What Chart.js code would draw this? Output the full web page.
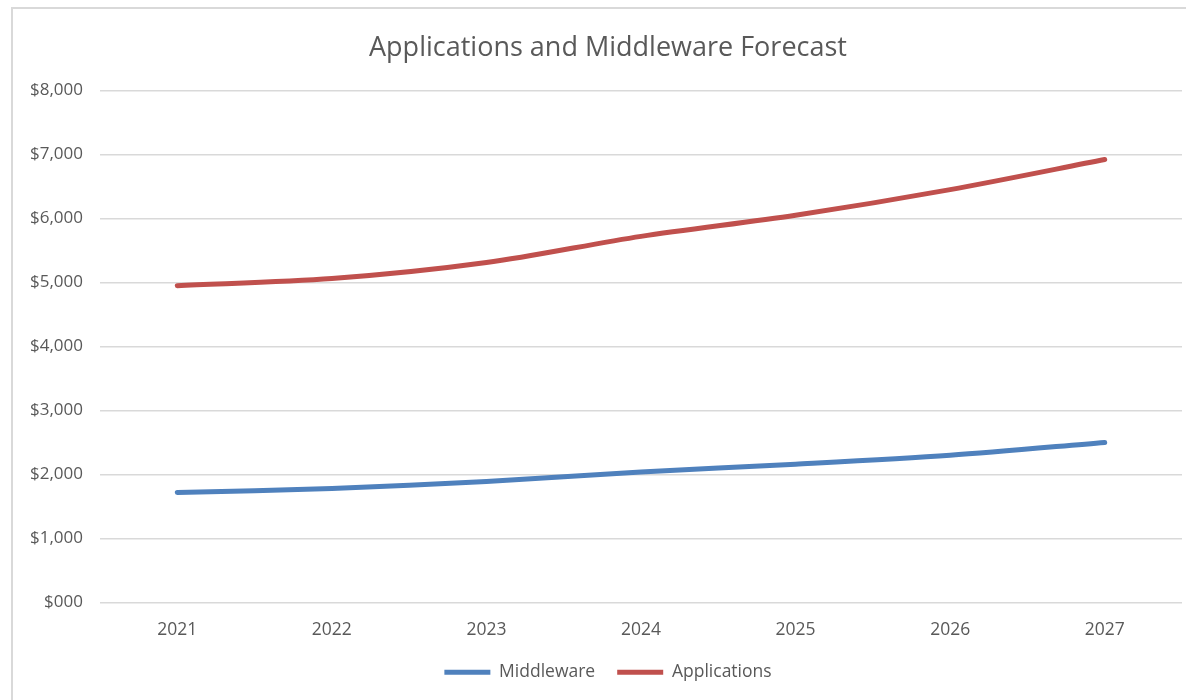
<!DOCTYPE html>
<html>
<head>
<meta charset="utf-8">
<title>Applications and Middleware Forecast</title>
<script src="https://cdn.jsdelivr.net/npm/chart.js@4"></script>
<style>
  html, body { margin: 0; padding: 0; background: #fff; }
  #wrap { position: relative; width: 1186px; height: 700px; overflow: hidden; }
  #frame { position: absolute; left: 11px; top: 7px; width: 1300px; height: 800px;
           border-top: 2px solid #d9d9d9; border-left: 2px solid #d9d9d9; pointer-events: none; }
</style>
</head>
<body>
<div id="wrap">
  <canvas id="myChart" width="1186" height="700"></canvas>
  <div id="frame"></div>
</div>
<script>
// values
const years = ['2021', '2022', '2023', '2024', '2025', '2026', '2027'];
const middleware = [1720, 1780, 1890, 2040, 2160, 2300, 2500];
const applications = [4950, 5060, 5310, 5720, 6050, 6450, 6920];

const textColor = '#595959';
const fontFamily = '"Open Sans", Lato, sans-serif';

// y labels sit partly in the left layout padding, so widen the y box
// after layout or chart.js clips the "$"
const unclipY = {
    id: 'unclipY',
    afterLayout: function (chart) {
        chart.scales.y.left = 0;
    }
};

function drawChart() {
    const config = {
        type: 'line',
        data: {
            labels: years,
            datasets: [
                {
                    label: 'Middleware',
                    data: middleware,
                    borderColor: '#4F81BD',
                    backgroundColor: '#4F81BD',
                    borderWidth: 5,
                    borderCapStyle: 'round',
                    tension: 0.3,
                    pointRadius: 0
                },
                {
                    label: 'Applications',
                    data: applications,
                    borderColor: '#C0504D',
                    backgroundColor: '#C0504D',
                    borderWidth: 5,
                    borderCapStyle: 'round',
                    tension: 0.3,
                    pointRadius: 0
                }
            ]
        },
        options: {
            responsive: false,
            animation: false,
            layout: {
                // left padding puts the title and legend centre on the frame centre
                padding: { left: 34, right: 4, top: 0, bottom: 9 }
            },
            plugins: {
                title: {
                    display: true,
                    text: 'Applications and Middleware Forecast',
                    color: textColor,
                    font: { family: fontFamily, size: 27, weight: 'normal' },
                    padding: { top: 32, bottom: 26 }
                },
                legend: {
                    position: 'bottom',
                    labels: {
                        color: textColor,
                        font: { family: fontFamily, size: 17.5 },
                        usePointStyle: true,
                        pointStyle: 'line',
                        pointStyleWidth: 46,
                        padding: 22
                    }
                },
                tooltip: { enabled: false }
            },
            scales: {
                x: {
                    offset: true,
                    grid: { display: false, drawTicks: false },
                    border: { display: false },
                    ticks: {
                        color: textColor,
                        font: { family: fontFamily, size: 17.5 },
                        padding: 17
                    },
                    afterFit: function (scale) { scale.height = 39; }
                },
                y: {
                    min: 0,
                    max: 8000,
                    grid: { color: '#d9d9d9', lineWidth: 1.5, drawTicks: false },
                    border: { display: false },
                    ticks: {
                        stepSize: 1000,
                        color: textColor,
                        font: { family: fontFamily, size: 17 },
                        padding: 17,
                        callback: function (value) {
                            if (value === 0) {
                                return '$000';
                            }
                            return '$' + value.toLocaleString('en-US');
                        }
                    },
                    afterFit: function (scale) { scale.width = 66; }
                }
            }
        },
        plugins: [unclipY]
    };

    const myChart = new Chart(
        document.getElementById('myChart'),
        config
    );
}

drawChart();
</script>
</body>
</html>
